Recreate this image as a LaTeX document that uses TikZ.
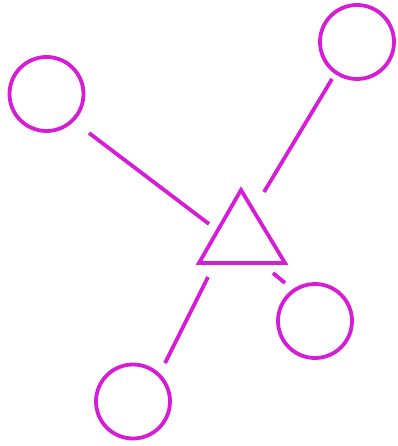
\documentclass[tikz,border=0pt]{standalone}
\definecolor{mag}{RGB}{214,28,214}
\begin{document}
\begin{tikzpicture}[x=1pt,y=-1pt,
  ball/.style={draw=mag,line width=3.8pt,circle,minimum size=74pt,inner sep=0pt},
  link/.style={draw=mag,line width=3.8pt},
  tri/.style={draw=mag,line width=3.8pt,line join=miter}]
\useasboundingbox (0,0) rectangle (397,446);
\node[ball] (tl) at (46.5,94) {};
\node[ball] (tr) at (357,42) {};
\node[ball] (br) at (315,321) {};
\node[ball] (bt) at (133,401.5) {};
\coordinate (ta) at (241,190);
\coordinate (tb) at (199,263);
\coordinate (tc) at (285,263);
\draw[tri] (ta) -- (tb) -- (tc) -- cycle;
\coordinate (e1) at (89,133);
\coordinate (f1) at (209,224);
\coordinate (e2) at (332,79);
\coordinate (f2) at (264,192);
\coordinate (e3) at (285,283);
\coordinate (f3) at (273,273);
\coordinate (e4) at (165,363);
\coordinate (f4) at (208,277);
\draw[link] (e1) -- (f1);
\draw[link] (e2) -- (f2);
\draw[link] (e3) -- (f3);
\draw[link] (e4) -- (f4);
\end{tikzpicture}
\end{document}
